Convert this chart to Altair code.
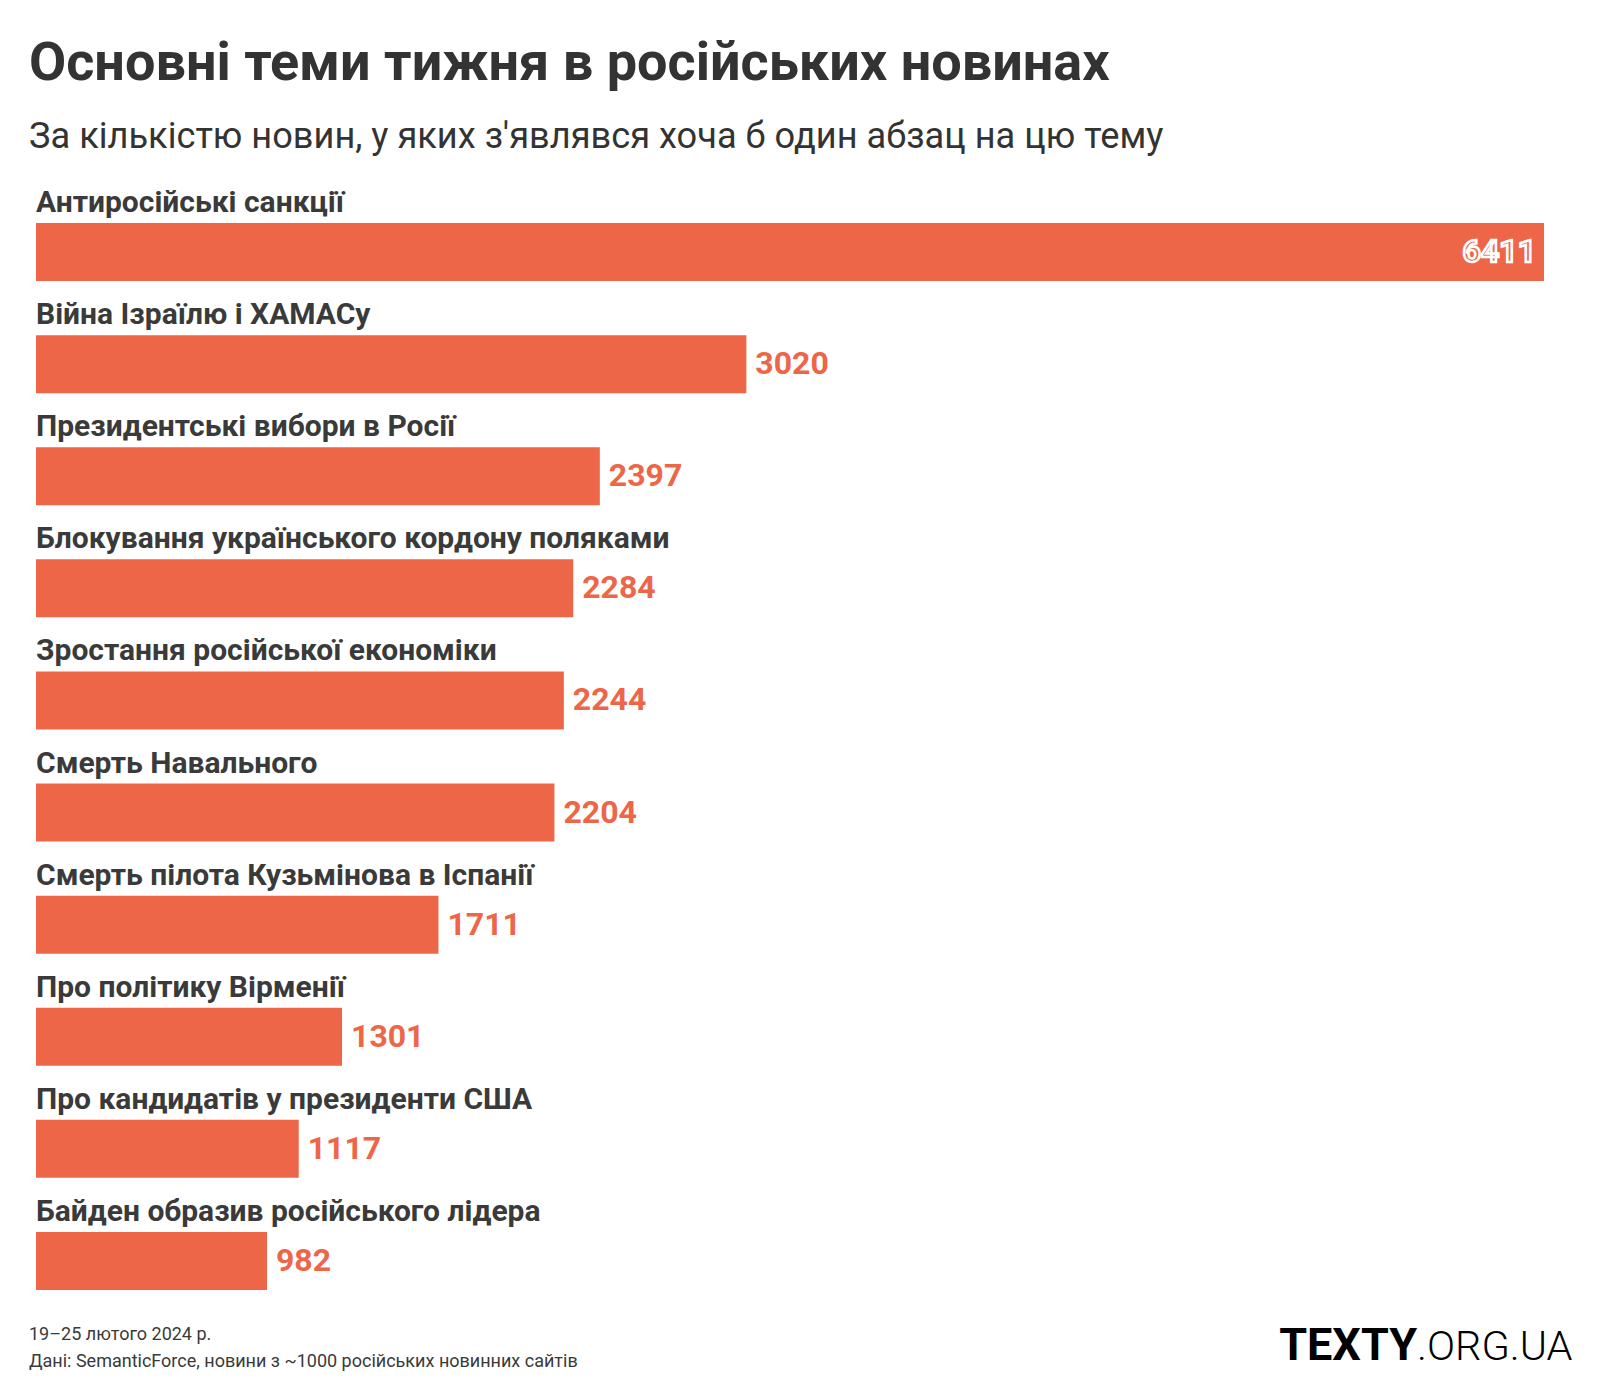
import altair as alt
import pandas as pd

topics = [
    "Антиросійські санкції",
    "Війна Ізраїлю і ХАМАСу",
    "Президентські вибори в Росії",
    "Блокування українського кордону поляками",
    "Зростання російської економіки",
    "Смерть Навального",
    "Смерть пілота Кузьмінова в Іспанії",
    "Про політику Вірменії",
    "Про кандидатів у президенти США",
    "Байден образив російського лідера",
]
counts = [6411, 3020, 2397, 2284, 2244, 2204, 1711, 1301, 1117, 982]

title_text = "Основні теми тижня в російських новинах"
subtitle_text = "За кількістю новин, у яких з'являвся хоча б один абзац на цю тему"
footer_lines = ["19–25 лютого 2024 р.", "Дані: SemanticForce, новини з ~1000 російських новинних сайтів"]
logo_bold = "TEXTY"
logo_light = ".ORG.UA"

BAR = "#ED6647"
TEXT = "#3a3a3a"
FONT = "Roboto"

df = pd.DataFrame({"topic": topics, "count": counts})
df["inside"] = df["count"] == df["count"].max()

W, H = 1508, 1121

x = alt.X("count:Q", scale=alt.Scale(domain=[0, max(counts)], nice=False, zero=True), axis=None)
y = alt.Y("topic:N", sort=topics, scale=alt.Scale(paddingInner=0, paddingOuter=0), axis=None)

base = alt.Chart(df)
bars = base.mark_bar(color=BAR, size=58).encode(x=x, y=y)

cat_labels = base.mark_text(
    align="left", baseline="alphabetic", dy=-40, font=FONT, fontWeight="bold",
    fontSize=30, color=TEXT
).encode(x=alt.value(0), y=y, text="topic:N")

val_out = base.transform_filter("!datum.inside").mark_text(
    align="left", baseline="middle", dx=9, font=FONT, fontWeight="bold",
    fontSize=32, color=BAR
).encode(x=x, y=y, text="count:Q")

val_in = base.transform_filter("datum.inside").mark_text(
    align="right", baseline="middle", dx=-8, font=FONT, fontWeight="bold",
    fontSize=32, color=BAR, stroke="white", strokeWidth=2.5
).encode(x=x, y=y, text="count:Q")

def note(text, xv, yv, size, weight="normal", color=TEXT, align="left"):
    return alt.Chart(pd.DataFrame({"t": [text]})).mark_text(
        align=align, baseline="alphabetic", font=FONT, fontSize=size,
        fontWeight=weight, color=color
    ).encode(x=alt.value(xv), y=alt.value(yv), text="t:N")

title = note(title_text, -7, -116, 54, "bold", "#333333")
subtitle = note(subtitle_text, -7, -48, 36.2, "normal", "#333333")
foot1 = note(footer_lines[0], -7, 1144, 18)
foot2 = note(footer_lines[1], -7, 1171, 18)
logo1 = note(logo_bold, 1381, 1164, 45, "bold", "#000000", align="right")
logo2 = note(logo_light, 1381, 1164, 41.5, 300, "#000000", align="left")

chart = alt.layer(
    bars, cat_labels, val_out, val_in, title, subtitle, foot1, foot2, logo1, logo2
).properties(
    width=W, height=H,
    padding={"left": 28, "top": 188, "right": 40, "bottom": 80},
    autosize=alt.AutoSizeParams(type="none"),
).configure_view(stroke=None)

chart.save("out.html", embed_options={"renderer": "svg", "actions": False})
